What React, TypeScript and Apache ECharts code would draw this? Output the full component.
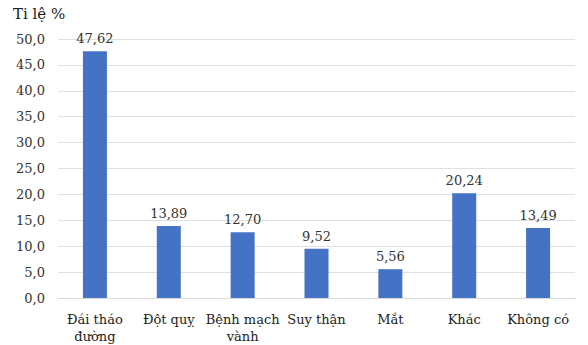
import React, { useEffect, useRef } from "react";
import * as echarts from "echarts";

const categories = ["Đái tháo\nđường", "Đột quỵ", "Bệnh mạch\nvành", "Suy thận", "Mắt", "Khác", "Không có"];
const values = [47.62, 13.89, 12.7, 9.52, 5.56, 20.24, 13.49];
const yAxisTitle = "Ti lệ %";

export default function App() {
  const ref = useRef<HTMLDivElement>(null);
  useEffect(() => {
    if (!ref.current) return;
    const chart = echarts.init(ref.current, undefined, { renderer: "svg" });
    const font = "DejaVu Serif";
    chart.setOption({
      animation: false,
      backgroundColor: "#ffffff",
      textStyle: { fontFamily: font },
      graphic: [
        {
          type: "text",
          left: 13,
          top: 6,
          style: { text: yAxisTitle, fontFamily: font, fontSize: 15, fill: "#1a1a1a" },
        },
      ],
      grid: { left: 58, right: 13, top: 39, bottom: 43 },
      xAxis: {
        type: "category",
        data: categories,
        axisTick: { show: false },
        axisLine: { lineStyle: { color: "#d9d9d9" } },
        axisLabel: {
          color: "#222",
          fontSize: 13,
          fontFamily: font,
          lineHeight: 17,
          margin: 13,
          interval: 0,
        },
      },
      yAxis: {
        type: "value",
        min: 0,
        max: 50,
        interval: 5,
        axisLine: { show: false },
        axisTick: { show: false },
        splitLine: { lineStyle: { color: "#e0e0e0" } },
        axisLabel: {
          color: "#333",
          fontSize: 13,
          fontFamily: font,
          margin: 13,
          formatter: (v: number) => v.toFixed(1).replace(".", ","),
        },
      },
      series: [
        {
          type: "bar",
          data: values,
          barWidth: 24,
          itemStyle: { color: "#4472C4" },
          label: {
            show: true,
            position: "top",
            distance: 6,
            color: "#333",
            fontSize: 13,
            fontFamily: font,
            formatter: (p: any) => (p.value as number).toFixed(2).replace(".", ","),
          },
        },
      ],
    });
    return () => chart.dispose();
  }, []);
  return (
    <div
      ref={ref}
      style={{ position: "fixed", left: 0, top: 0, width: 588, height: 345 }}
    />
  );
}
